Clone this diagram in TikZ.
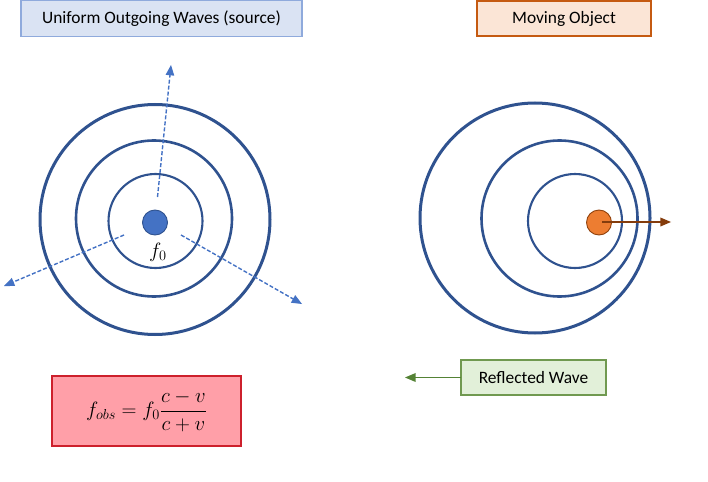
\documentclass[tikz,border=0pt]{standalone}
\usepackage{amsmath}
\usepackage{fontspec}
\setmainfont{Carlito}
\usetikzlibrary{shapes, arrows}
\definecolor{waveblue}{RGB}{47,82,143}
\definecolor{dashblue}{RGB}{68,114,196}
\definecolor{sourceedge}{RGB}{143,170,220}
\definecolor{sourcefill}{RGB}{218,227,243}
\definecolor{objectedge}{RGB}{197,90,17}
\definecolor{objectfill}{RGB}{251,229,214}
\definecolor{objectdot}{RGB}{237,125,49}
\definecolor{objectline}{RGB}{132,60,12}
\definecolor{reflectedge}{RGB}{112,153,80}
\definecolor{reflectfill}{RGB}{226,240,217}
\definecolor{reflectline}{RGB}{84,130,53}
\definecolor{formulaedge}{RGB}{205,32,44}
\definecolor{formulafill}{RGB}{255,159,168}
\tikzstyle{label} = [rectangle, inner sep=0pt, outer sep=0pt, line width=1.2pt, font=\fontsize{17.4}{20}\selectfont]
\tikzstyle{wave} = [circle, inner sep=0pt, outer sep=0pt, draw=waveblue]
\tikzstyle{dot} = [circle, inner sep=0pt, outer sep=0pt, minimum size=25pt, line width=0.9pt]
\tikzstyle{outgoing} = [dash pattern=on 4pt off 2pt, line width=1.4pt, draw=dashblue, ->, >=triangle 45]
\begin{document}
\begin{tikzpicture}[x=1pt, y=-1pt]
\useasboundingbox (0,0) rectangle (708,481);
% top labels
\node[label, draw=sourceedge, fill=sourcefill, minimum width=281pt, minimum height=36pt] (sourceLabel) at (161.5,18.5) {Uniform Outgoing Waves (source)};
\node[label, draw=objectedge, fill=objectfill, minimum width=174pt, minimum height=35pt] (objectLabel) at (564,18.5) {Moving Object};
% source side
\node[wave, line width=3pt, minimum size=230pt] (srcOuter) at (155,219.5) {};
\node[wave, line width=2.6pt, minimum size=156pt] (srcMiddle) at (154,218.5) {};
\node[wave, line width=2.1pt, minimum size=94pt] (srcInner) at (155.5,221) {};
\node[dot, draw=waveblue, fill=dashblue] (source) at (155,222.5) {};
\node[inner sep=0pt] (freq) at (158,252) {\fontsize{20}{23}\selectfont $f_0$};
\coordinate (upStart) at (157.5,197);
\coordinate (upEnd) at (171,65);
\coordinate (leftStart) at (124,235);
\coordinate (leftEnd) at (4,286);
\coordinate (rightStart) at (181,235);
\coordinate (rightEnd) at (302,304);
\draw[outgoing] (upStart) -- (upEnd);
\draw[outgoing] (leftStart) -- (leftEnd);
\draw[outgoing] (rightStart) -- (rightEnd);
% moving object side
\node[wave, line width=3pt, minimum size=230pt] (objOuter) at (535,218) {};
\node[wave, line width=2.6pt, minimum size=156pt] (objMiddle) at (559.5,218.5) {};
\node[wave, line width=2.1pt, minimum size=94pt] (objInner) at (575,221) {};
\node[dot, draw=objectline!80!objectedge, fill=objectdot] (object) at (599,222.5) {};
\coordinate (moveStart) at (602,222);
\coordinate (moveEnd) at (671,222);
\draw[line width=1.5pt, draw=objectline, ->, >=triangle 45] (moveStart) -- (moveEnd);
% bottom boxes
\node[label, draw=reflectedge, fill=reflectfill, minimum width=145pt, minimum height=35pt] (reflected) at (533.5,377.5) {Reflected Wave};
\coordinate (reflectedEnd) at (405,377.5);
\draw[line width=1.5pt, draw=reflectline, ->, >=triangle 45] (reflected) -- (reflectedEnd);
\node[label, draw=formulaedge, fill=formulafill, minimum width=189pt, minimum height=70pt, font=\fontsize{20.8}{24}\selectfont] (formula) at (146.5,411) {\raisebox{-3pt}{$f_{obs}=f_0\dfrac{c-v}{c+v}$}};
\end{tikzpicture}
\end{document}
